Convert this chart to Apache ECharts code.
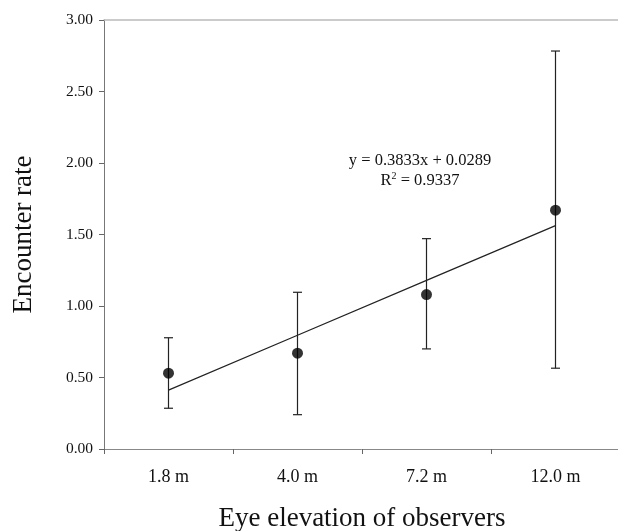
<!DOCTYPE html>
<html><head><meta charset="utf-8">
<script src="https://cdn.jsdelivr.net/npm/echarts@6/dist/echarts.min.js"></script>
<style>html,body{margin:0;padding:0;background:#fff}#c{width:618px;height:531px}</style>
</head><body><div id="c"></div>
<script>
const categories = ['1.8 m', '4.0 m', '7.2 m', '12.0 m'];
const means = [0.53, 0.67, 1.08, 1.67];
const lowerErr = [0.285, 0.24, 0.70, 0.565];
const upperErr = [0.778, 1.096, 1.471, 2.783];
const trend = [0.412, 0.795, 1.179, 1.562];
const yTicks = [0, 0.5, 1, 1.5, 2, 2.5, 3];
const equationText = 'y = 0.3833x + 0.0289';
const r2Text = 'R{sup|2} = 0.9337';

const serif = '"Liberation Serif", "DejaVu Serif", serif';
const chart = echarts.init(document.getElementById('c'));
const errData = categories.map((c, i) => [i, lowerErr[i], upperErr[i]]);
chart.setOption({
  animation: false,
  grid: { left: 104, right: -2, top: 20, bottom: 82, containLabel: false, outerBoundsMode: 'none' },
  xAxis: [{
    type: 'category', data: categories, boundaryGap: true,
    axisLine: { lineStyle: { color: '#888', width: 1 } },
    axisTick: { show: true, inside: false, length: 5, alignWithLabel: false, lineStyle: { color: '#666' } },
    axisLabel: { fontFamily: serif, fontSize: 18, color: '#111', margin: 19 },
    name: 'Eye elevation of observers', nameLocation: 'middle', nameGap: 56,
    nameTextStyle: { fontFamily: serif, fontSize: 27, color: '#111' }
  }, {
    type: 'category', data: categories, position: 'top',
    axisLine: { lineStyle: { color: '#bbb', width: 1.5 } },
    axisTick: { show: false }, axisLabel: { show: false }
  }],
  yAxis: {
    type: 'value', min: 0, max: 3, interval: 0.5,
    axisLine: { show: true, lineStyle: { color: '#777', width: 1 } },
    axisTick: { show: true, length: 5, lineStyle: { color: '#666' } },
    splitLine: { show: false },
    axisLabel: { fontFamily: serif, fontSize: 15.5, color: '#111', margin: 11,
      formatter: v => v.toFixed(2) },
    name: 'Encounter rate', nameLocation: 'middle', nameGap: 67,
    nameTextStyle: { fontFamily: serif, fontSize: 27, color: '#111' }
  },
  series: [{
    type: 'custom', data: errData, z: 2,
    renderItem: (params, api) => {
      const x = api.value(0);
      const lo = api.coord([x, api.value(1)]);
      const hi = api.coord([x, api.value(2)]);
      const hw = 4.5;
      const st = { stroke: '#222', lineWidth: 1.2 };
      return { type: 'group', children: [
        { type: 'line', shape: { x1: lo[0], y1: lo[1], x2: hi[0], y2: hi[1] }, style: st },
        { type: 'line', shape: { x1: lo[0]-hw, y1: lo[1], x2: lo[0]+hw, y2: lo[1] }, style: st },
        { type: 'line', shape: { x1: hi[0]-hw, y1: hi[1], x2: hi[0]+hw, y2: hi[1] }, style: st }
      ]};
    }
  }, {
    type: 'line', data: trend, symbol: 'none', z: 3,
    lineStyle: { color: '#222', width: 1.2 }
  }, {
    type: 'scatter', data: means, symbol: 'circle', symbolSize: 11, z: 4,
    itemStyle: { color: '#000' }
  }],
  graphic: [{
    type: 'text', x: 420, y: 161,
    style: { text: equationText, fontFamily: serif, fontSize: 16.5, fill: '#111',
      align: 'center', verticalAlign: 'middle' }
  }, {
    type: 'text', x: 420, y: 181,
    style: { text: r2Text, fontFamily: serif, fontSize: 16.5, fill: '#111',
      align: 'center', verticalAlign: 'middle',
      rich: { sup: { fontSize: 10, fontFamily: serif, fill: '#111', padding: [0, 0, 9, 0] } } }
  }]
});
</script></body></html>
